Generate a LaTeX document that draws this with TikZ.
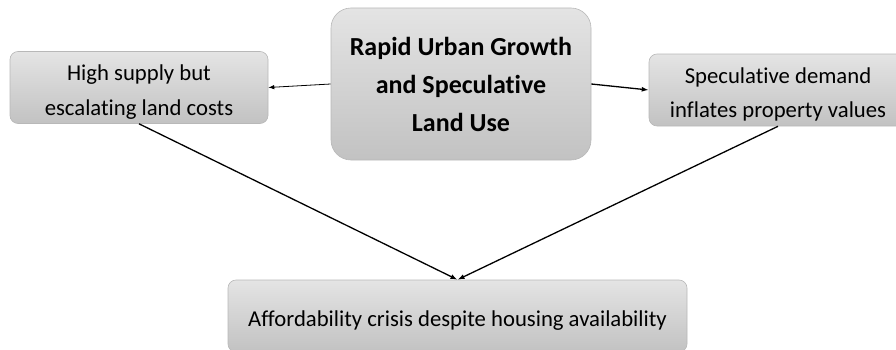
\documentclass[tikz,border=0pt]{standalone}
\usepackage{fontspec}
\setmainfont{Carlito}[Ligatures=NoCommon]
\usetikzlibrary{arrows.meta}
\definecolor{boxtop}{HTML}{E4E4E4}
\definecolor{boxbot}{HTML}{C2C2C2}
\definecolor{boxline}{HTML}{B8B8B8}
% invisible strut that sets the text of the small cards a little lower
\newcommand\cardstrut{\rule{0pt}{25pt}}
\tikzset{
  card/.style={draw=boxline, line width=0.6pt, top color=boxtop, bottom color=boxbot,
    align=center, inner sep=0pt, text=black},
  smallcard/.style={card, rounded corners=8pt, font=\fontsize{22.7}{34.5}\selectfont},
  bigcard/.style={card, rounded corners=20pt, font=\fontsize{26}{38}\selectfont\bfseries},
  link/.style={draw=black, line width=1.3pt, -{Latex[length=7pt,width=5pt]}},
  thinlink/.style={draw=black, line width=0.8pt, -{Latex[length=6pt,width=4.5pt]}}
}
\begin{document}
\begin{tikzpicture}[x=1pt,y=1pt]
\useasboundingbox (0,0) rectangle (896,349);
% main cause
\node[bigcard, minimum width=260pt, minimum height=152pt] (c) at (461,265)
  {Rapid Urban Growth\\and Speculative\\Land Use};
% two effects
\node[smallcard, minimum width=258pt, minimum height=72pt] (l) at (139,261.5)
  {\cardstrut High supply but\\escalating land costs};
\node[smallcard, minimum width=258pt, minimum height=72pt] (r) at (778,259)
  {\cardstrut Speculative demand\\inflates property values};
% outcome
\node[smallcard, minimum width=459pt, minimum height=72pt] (b) at (457.5,33)
  {\cardstrut Affordability crisis despite housing availability};
% connectors
\draw[thinlink] (c.west) -- (l.east);
\draw[link] (c.east) -- (r.west);
\draw[link] (l.south) -- (b.north);
\draw[link] (r.south) -- (b.north);
\end{tikzpicture}
\end{document}
